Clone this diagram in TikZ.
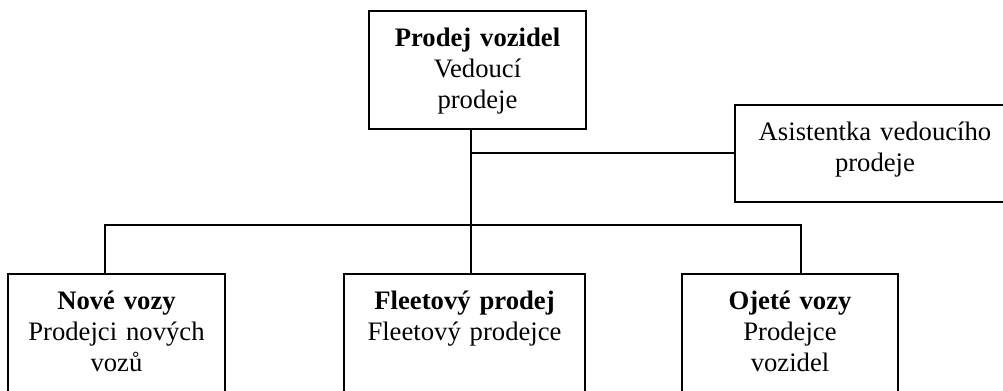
\documentclass[tikz,border=0pt]{standalone}
\usepackage{fontspec}
\setmainfont{Liberation Serif}
\usepackage{tikz}
\usetikzlibrary{positioning}

\begin{document}
\begin{tikzpicture}[x=0.75pt,y=-0.75pt,
      unit/.style={draw,line width=1.5pt,anchor=north,inner sep=0pt,align=center,
        text height=26.5pt,font=\fontsize{20}{23.25}\selectfont},
      link/.style={line width=1.5pt}]
    \useasboundingbox (0,0) rectangle (1003,391);
    \clip (0,0) rectangle (1003,391);
    \node[unit,text width=162.75pt,text depth=62pt] (head) at (477.5,10) {\textbf{Prodej vozidel}\\Vedoucí\\prodeje};
    \node[unit,text width=210pt,text depth=46.5pt] (asst) at (875,104) {Asistentka vedoucího\\prodeje};
    \node[unit,text width=162.75pt,text depth=64pt] (nove) at (116.5,273) {\textbf{Nové vozy}\\Prodejci nových\\vozů};
    \node[unit,text width=180.75pt,text depth=64pt] (fleet) at (464.5,273) {\textbf{Fleetový prodej}\\Fleetový prodejce};
    \node[unit,text width=162pt,text depth=64pt] (ojete) at (790,273) {\textbf{Ojeté vozy}\\Prodejce\\vozidel};
    % tree lines
    \coordinate (tap) at (471,153);
    \coordinate (bus) at (471,225);
    \coordinate (busL) at (105,225);
    \coordinate (busR) at (801,225);
    \draw[link] (head.south -| bus) -- (fleet.north -| bus);
    \draw[link] (tap) -- (tap -| asst.west);
    \draw[link] (busL |- nove.north) -- (busL) -- (busR) -- (busR |- ojete.north);
  \end{tikzpicture}
\end{document}
